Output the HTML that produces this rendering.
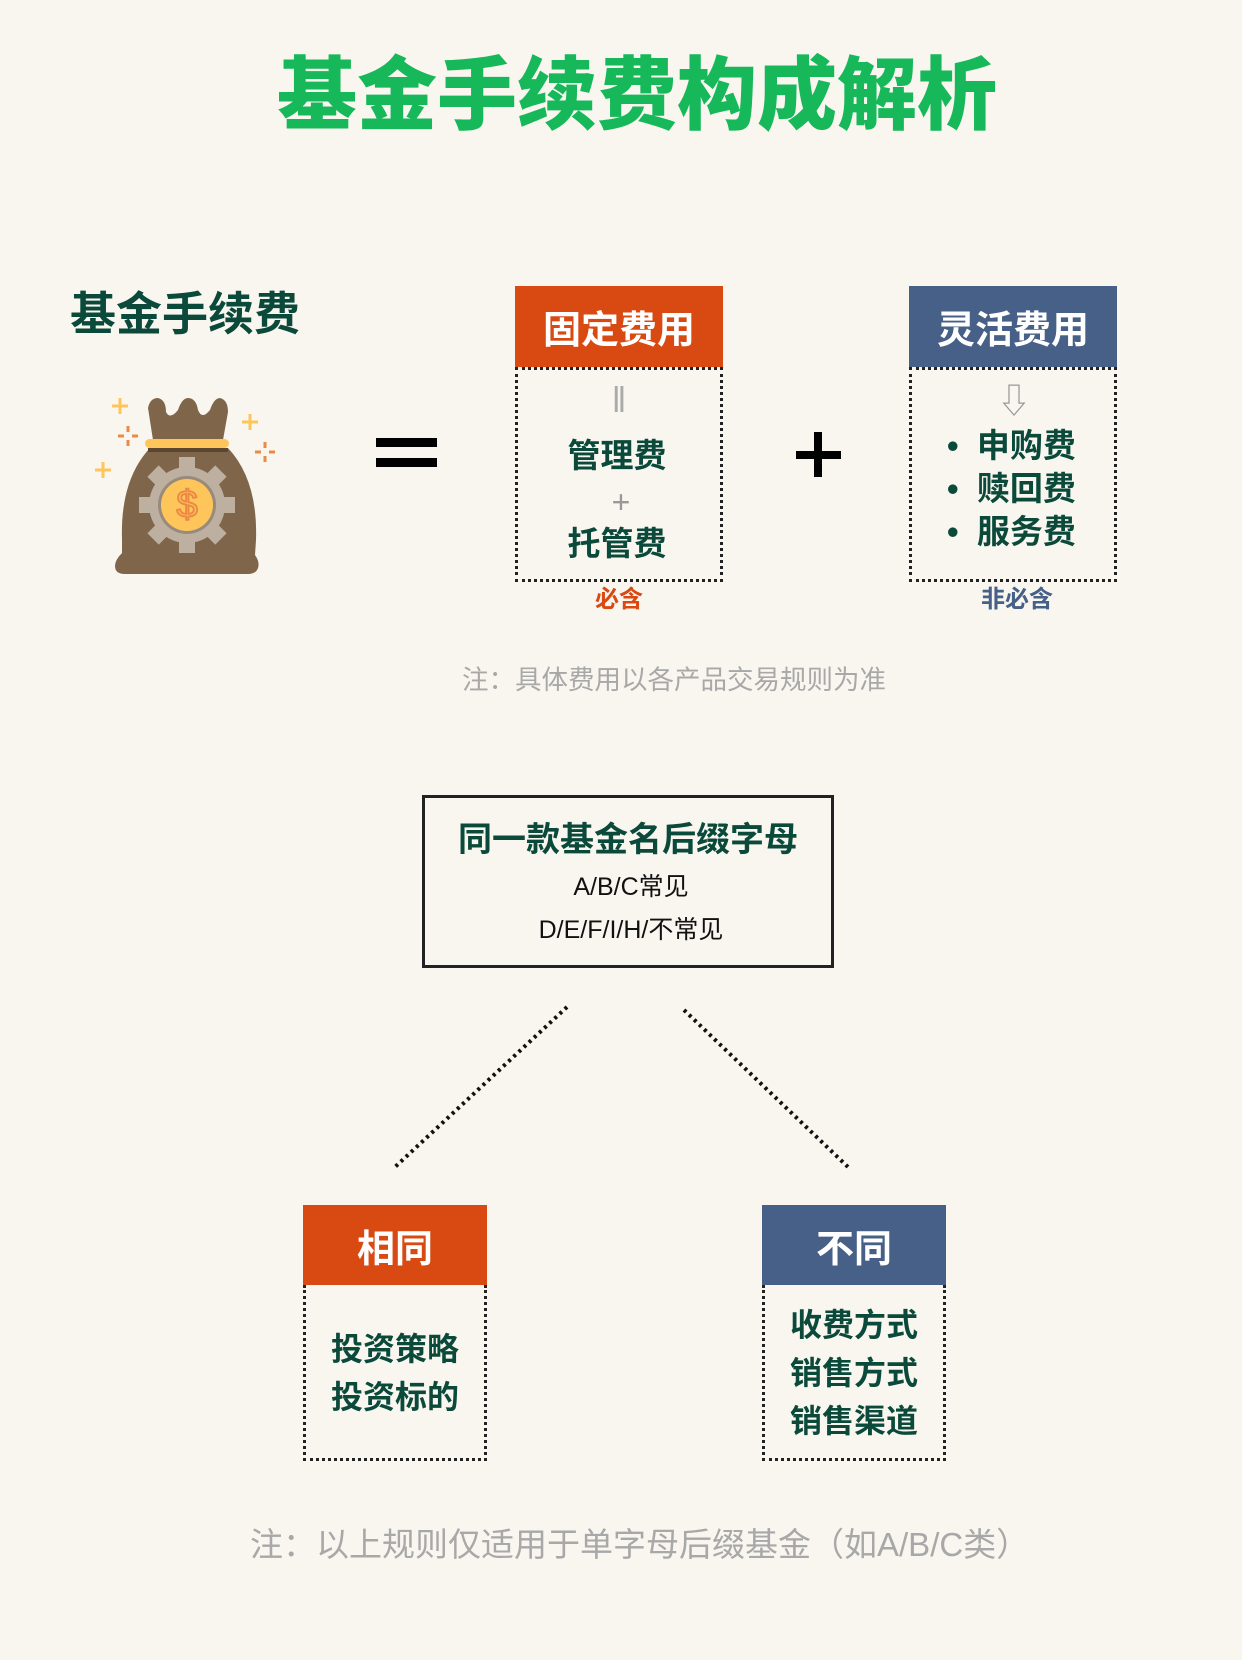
<!DOCTYPE html>
<html><head><meta charset="utf-8"><style>
html,body{margin:0;padding:0}
body{width:1242px;height:1660px;background:#f9f6f0;position:relative;overflow:hidden;font-family:"Liberation Sans","Noto Sans CJK SC",sans-serif}
.a{position:absolute}
.t{white-space:nowrap;text-align:center}
.g{color:#0b4a3a;font-weight:bold}
.hd{color:#fff;font-weight:bold;display:flex;align-items:center;justify-content:center}
.dot{border:3px dotted #222;border-top:none;box-sizing:border-box}
</style></head><body>
<div class="a t" style="left:16px;width:1242px;top:46px;font-size:80px;font-weight:900;color:#16b85a;line-height:100px">基金手续费构成解析</div>
<div class="a t g" style="left:70px;top:285px;font-size:46px;line-height:58px">基金手续费</div>
<svg class="a" style="left:90px;top:390px" width="200" height="200" viewBox="0 0 200 200">
<path d="M58 18 Q60 8 68 8 Q76 10 76 22 Q80 30 88 20 Q92 8 98 8 Q106 8 108 20 Q112 30 120 20 Q124 8 130 8 Q138 10 138 22 L133 50 L63 50 Z" fill="#7f664b"/>
<path d="M60 58 L138 58 Q168 90 166 150 L165 165 Q170 172 168 178 Q166 184 158 184 L35 184 Q25 184 25 176 Q25 170 32 163 L32 150 Q30 90 60 58 Z" fill="#7f664b"/>
<rect x="55" y="49" width="84" height="9" rx="4.5" fill="#fec65a"/>
<rect x="58" y="58" width="80" height="4" fill="#5c4630"/>
<g transform="translate(97,115)" fill="#bdb0a1">
<circle r="38"/>
<g><rect x="-8" y="-48" width="16" height="14"/><rect x="-8" y="34" width="16" height="14"/><rect x="-48" y="-8" width="14" height="16"/><rect x="34" y="-8" width="14" height="16"/>
<g transform="rotate(45)"><rect x="-8" y="-48" width="16" height="14"/><rect x="-8" y="34" width="16" height="14"/><rect x="-48" y="-8" width="14" height="16"/><rect x="34" y="-8" width="14" height="16"/></g></g>
<circle r="29" fill="#998a7a"/><circle r="26" fill="#fec65a"/>
<text x="0" y="12" text-anchor="middle" font-size="38" fill="none" stroke="#ec8a45" stroke-width="2" font-family="Liberation Sans">$</text>
</g>
<g stroke="#fec65a" stroke-width="3"><path d="M30 8v16M22 16h16M160 24v16M152 32h16M13 72v16M5 80h16"/></g>
<g stroke="#ec8a45" stroke-width="3"><path d="M38 36v6M38 50v6M28 46h6M42 46h6M175 52v6M175 66v6M165 62h6M179 62h6"/></g>
</svg>
<div class="a" style="left:376px;top:438px;width:61px;height:9px;background:#000"></div>
<div class="a" style="left:376px;top:458px;width:61px;height:9px;background:#000"></div>
<div class="a" style="left:796px;top:451px;width:45px;height:8px;background:#000"></div>
<div class="a" style="left:814px;top:432px;width:8px;height:45px;background:#000"></div>

<div class="a hd" style="left:515px;top:286px;width:208px;height:81px;background:#d84a12;font-size:38px">固定费用</div>
<div class="a dot" style="left:515px;top:367px;width:208px;height:215px;border-top:3px dotted #222"></div>
<div class="a t" style="left:515px;width:208px;top:380px;font-size:36px;color:#aaa;line-height:40px">‖</div>
<div class="a t g" style="left:513px;width:208px;top:434px;font-size:33px;line-height:44px">管理费</div>
<div class="a t" style="left:517px;width:208px;top:482px;font-size:32px;color:#999;line-height:40px">+</div>
<div class="a t g" style="left:513px;width:208px;top:522px;font-size:33px;line-height:44px">托管费</div>
<div class="a t" style="left:515px;width:208px;top:584px;font-size:24px;color:#d84a12;font-weight:bold;line-height:32px">必含</div>

<div class="a hd" style="left:909px;top:286px;width:208px;height:81px;background:#476087;font-size:38px">灵活费用</div>
<div class="a dot" style="left:909px;top:367px;width:208px;height:215px;border-top:3px dotted #222"></div>
<div class="a t" style="left:994px;width:40px;top:382px;font-size:34px;color:#999;line-height:40px">⇩</div>
<div class="a g" style="left:947px;top:424px;font-size:33px;line-height:43px">•&nbsp; 申购费<br>•&nbsp; 赎回费<br>•&nbsp; 服务费</div>
<div class="a t" style="left:913px;width:208px;top:584px;font-size:24px;color:#476087;font-weight:bold;line-height:32px">非必含</div>

<div class="a t" style="left:462px;width:424px;top:663px;font-size:26.5px;color:#a8a8a8;line-height:34px">注：具体费用以各产品交易规则为准</div>

<div class="a" style="left:422px;top:795px;width:412px;height:173px;border:3px solid #222;box-sizing:border-box"></div>
<div class="a t g" style="left:422px;width:412px;top:818px;font-size:34px;line-height:44px">同一款基金名后缀字母</div>
<div class="a t" style="left:425px;width:412px;top:870px;font-size:25px;line-height:34px;color:#111">A/B/C常见</div>
<div class="a t" style="left:425px;width:412px;top:913px;font-size:25px;line-height:34px;color:#111">D/E/F/I/H/不常见</div>

<svg class="a" style="left:0;top:0" width="1242" height="1660"><g stroke="#111" stroke-width="4" stroke-dasharray="3 4"><line x1="567" y1="1007" x2="395" y2="1167"/><line x1="684" y1="1010" x2="848" y2="1167"/></g></svg>

<div class="a hd" style="left:303px;top:1205px;width:184px;height:80px;background:#d84a12;font-size:38px">相同</div>
<div class="a dot" style="left:303px;top:1285px;width:184px;height:176px;border-top:none"></div>
<div class="a t g" style="left:303px;width:184px;top:1325px;font-size:32px;line-height:48px">投资策略<br>投资标的</div>

<div class="a hd" style="left:762px;top:1205px;width:184px;height:80px;background:#476087;font-size:38px">不同</div>
<div class="a dot" style="left:762px;top:1285px;width:184px;height:176px;border-top:none"></div>
<div class="a t g" style="left:762px;width:184px;top:1301px;font-size:32px;line-height:48px">收费方式<br>销售方式<br>销售渠道</div>

<div class="a t" style="left:250px;width:772px;top:1523px;font-size:33px;color:#a8a8a8;line-height:44px">注：以上规则仅适用于单字母后缀基金（如A/B/C类）</div>
</body></html>
